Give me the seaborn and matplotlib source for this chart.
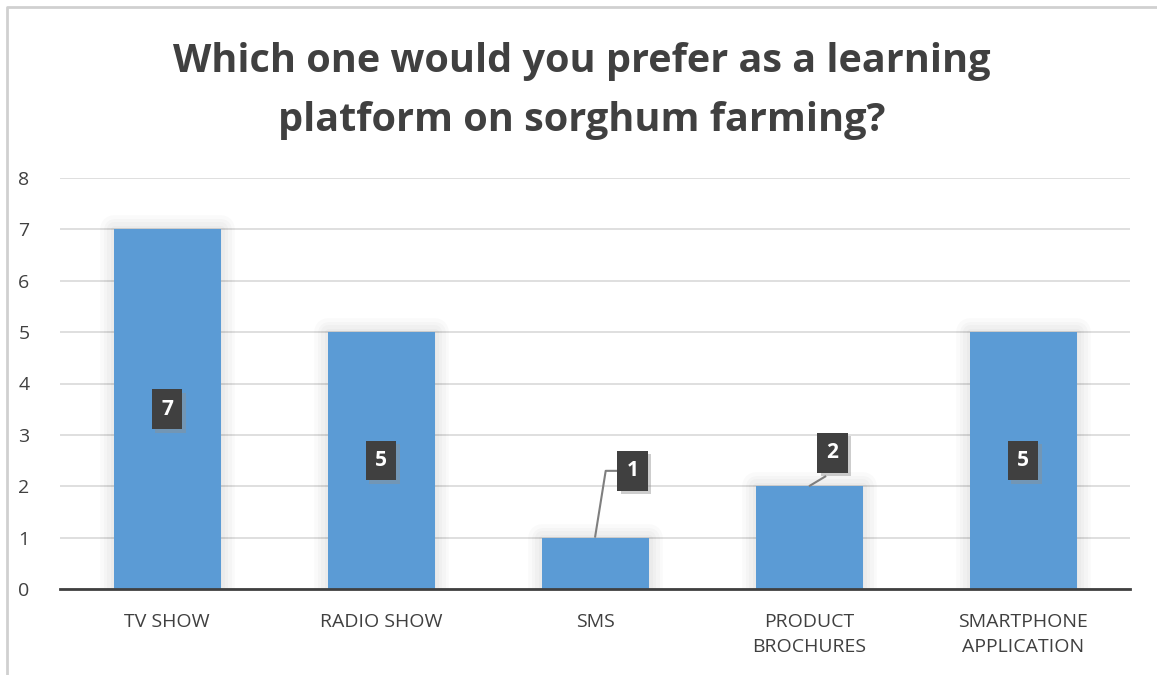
import matplotlib
matplotlib.use("Agg")
import matplotlib.pyplot as plt
import matplotlib.patheffects as pe
import seaborn as sns
import pandas as pd

categories = ["TV SHOW", "RADIO SHOW", "SMS", "PRODUCT\nBROCHURES", "SMARTPHONE\nAPPLICATION"]
responses = [7, 5, 1, 2, 5]
title = "Which one would you prefer as a learning\nplatform on sorghum farming?"

sns.set_theme(style="white")
plt.rcParams["font.family"] = ["Open Sans", "DejaVu Sans"]

df = pd.DataFrame({"platform": categories, "count": responses})

fig = plt.figure(figsize=(11.57, 6.75), dpi=100)
ax = fig.add_axes([60 / 1157, 1 - 589 / 675, 1070 / 1157, 411 / 675])

sns.barplot(data=df, x="platform", y="count", color="#5b9bd5", width=0.5,
            saturation=1, linewidth=0, ax=ax, zorder=3)
# soft glow around each bar
glow = [pe.Stroke(linewidth=w, foreground="black", alpha=0.018, joinstyle="round")
        for w in (20, 15, 10, 5)]
for bar in ax.patches:
    bar.set_path_effects(glow + [pe.Normal()])

ax.set_xlim(-0.5, len(categories) - 0.5)
ax.set_ylim(0, 8)
ax.set_yticks(range(0, 9))
ax.grid(axis="y", color="#d9d9d9", linewidth=1.2, zorder=0)
ax.set_xlabel("")
ax.set_ylabel("")
for s in ["top", "right", "left"]:
    ax.spines[s].set_visible(False)
ax.spines["bottom"].set_color("#404040")
ax.spines["bottom"].set_linewidth(2)
ax.spines["bottom"].set_zorder(4)

# category boundary ticks on the x axis
ax.set_xticks([i - 0.5 for i in range(len(categories) + 1)], minor=True)
ax.tick_params(axis="x", which="minor", length=9, width=2, color="#404040", direction="out")
ax.tick_params(axis="x", which="major", length=0, labelsize=14, labelcolor="#404040", pad=17)
ax.tick_params(axis="y", length=0, labelsize=14, labelcolor="#404040", pad=22)
for lbl in ax.get_xticklabels():
    lbl.set_linespacing(1.55)

box = dict(boxstyle="square,pad=0.45", fc="#404040", ec="none")
shadow = [pe.withSimplePatchShadow(offset=(2.5, -2.5), shadow_rgbFace="#909090", alpha=0.45)]

label_kw = dict(color="white", fontsize=15, fontweight="bold", ha="center", va="center",
                bbox=box, zorder=6)

# labels inside the tall bars
for i in (0, 1, 4):
    t = ax.text(i, responses[i] / 2, str(responses[i]), **label_kw)
    t.get_bbox_patch().set_path_effects(shadow)

# callout labels for the short bars
callouts = {2: (2.175, 2.3, [(2.0, 1.0), (2.05, 2.3), (2.12, 2.3)]),
            3: (3.11, 2.65, [(3.0, 2.0), (3.08, 2.2)])}
for i, (tx, ty, path) in callouts.items():
    xs, ys = zip(*path)
    ax.plot(xs, ys, color="#7f7f7f", linewidth=1.5, zorder=5, solid_capstyle="butt")
    t = ax.text(tx, ty, str(responses[i]), **label_kw)
    t.get_bbox_patch().set_path_effects(shadow)

fig.text(582 / 1157, 1 - 91 / 675, title, ha="center", va="center", fontsize=28.5,
         fontweight="bold", color="#404040", linespacing=1.65)

# chart frame
frame = plt.Line2D([7 / 1157, 7 / 1157, 1.0], [0, 1 - 7 / 675, 1 - 7 / 675],
                   transform=fig.transFigure, color="#d0d0d0", linewidth=2)
fig.add_artist(frame)

fig.savefig("out.png", dpi=100, facecolor="white")
